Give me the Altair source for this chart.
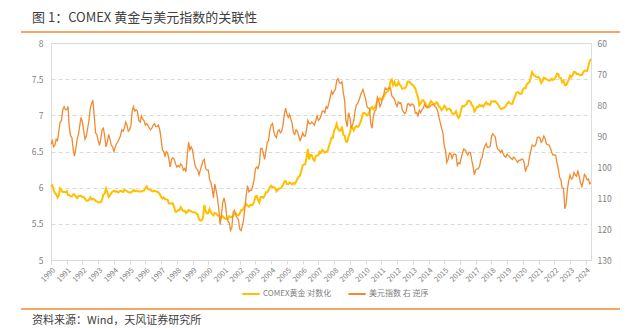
import altair as alt
import pandas as pd

# COMEX gold (USD/oz), monthly readings 1990-01 .. 2024-05
gold = {
    1990: [410, 417, 393, 374, 369, 352, 362, 400, 389, 380, 381, 378],
    1991: [384, 364, 363, 358, 357, 367, 368, 356, 349, 359, 360, 361],
    1992: [354, 354, 345, 338, 337, 341, 353, 343, 345, 344, 335, 334],
    1993: [329, 330, 330, 342, 367, 372, 398, 379, 355, 364, 374, 383],
    1994: [387, 382, 384, 377, 381, 386, 385, 380, 391, 389, 384, 379],
    1995: [379, 377, 382, 391, 385, 387, 386, 383, 383, 383, 386, 387],
    1996: [400, 410, 396, 393, 392, 385, 383, 387, 383, 381, 378, 369],
    1997: [355, 347, 352, 344, 344, 341, 324, 324, 323, 325, 306, 289],
    1998: [289, 297, 296, 308, 299, 292, 293, 284, 289, 296, 294, 291],
    1999: [287, 287, 286, 282, 277, 261, 256, 257, 265, 318, 293, 283],
    2000: [284, 300, 286, 280, 275, 285, 282, 275, 273, 270, 266, 272],
    2001: [266, 262, 263, 261, 272, 270, 268, 273, 283, 283, 276, 275],
    2002: [282, 296, 294, 303, 314, 322, 314, 310, 319, 317, 319, 333],
    2003: [357, 359, 340, 328, 355, 356, 351, 360, 379, 379, 390, 407],
    2004: [414, 405, 406, 403, 384, 392, 398, 400, 406, 420, 439, 442],
    2005: [424, 423, 434, 429, 422, 430, 424, 437, 456, 470, 476, 510],
    2006: [549, 555, 557, 610, 690, 596, 633, 632, 598, 585, 627, 629],
    2007: [631, 664, 655, 679, 667, 655, 665, 665, 712, 754, 806, 803],
    2008: [889, 922, 975, 909, 888, 889, 939, 839, 829, 760, 760, 816],
    2009: [858, 943, 924, 890, 928, 946, 934, 949, 996, 1043, 1127, 1134],
    2010: [1118, 1095, 1113, 1148, 1205, 1232, 1193, 1215, 1271, 1343, 1370, 1391],
    2011: [1356, 1372, 1424, 1473, 1510, 1529, 1572, 1756, 1800, 1665, 1739, 1652],
    2012: [1656, 1742, 1673, 1650, 1585, 1596, 1594, 1630, 1744, 1747, 1721, 1684],
    2013: [1671, 1627, 1593, 1487, 1414, 1260, 1286, 1347, 1349, 1316, 1275, 1221],
    2014: [1244, 1300, 1336, 1299, 1287, 1279, 1311, 1296, 1239, 1222, 1176, 1200],
    2015: [1251, 1227, 1178, 1198, 1199, 1181, 1128, 1117, 1125, 1159, 1086, 1060],
    2016: [1097, 1200, 1246, 1242, 1260, 1276, 1337, 1341, 1326, 1266, 1238, 1157],
    2017: [1192, 1234, 1231, 1266, 1246, 1260, 1237, 1283, 1315, 1280, 1283, 1265],
    2018: [1331, 1331, 1325, 1335, 1303, 1282, 1238, 1202, 1198, 1215, 1221, 1250],
    2019: [1291, 1320, 1300, 1286, 1284, 1359, 1413, 1500, 1511, 1495, 1471, 1480],
    2020: [1560, 1597, 1591, 1683, 1715, 1732, 1847, 1990, 1921, 1900, 1866, 1858],
    2021: [1867, 1808, 1718, 1760, 1850, 1834, 1807, 1785, 1775, 1777, 1821, 1790],
    2022: [1817, 1856, 1948, 1937, 1849, 1837, 1732, 1764, 1665, 1664, 1726, 1798],
    2023: [1898, 1855, 1912, 2000, 1992, 1943, 1951, 1918, 1916, 1916, 1985, 2030],
    2024: [2034, 2024, 2160, 2330, 2390],
}

# US dollar index, monthly readings 1990-01 .. 2024-05
dxy = {
    1990: [92.7, 91.5, 93.5, 93.0, 91.0, 91.5, 88.5, 85.5, 85.0, 81.5, 80.5, 81.5],
    1991: [81.5, 80.5, 87.0, 90.0, 90.5, 94.5, 96.5, 94.0, 91.0, 89.5, 86.5, 84.0],
    1992: [85.5, 88.5, 91.0, 90.0, 87.5, 85.0, 81.0, 79.5, 78.5, 83.5, 89.0, 89.5],
    1993: [91.5, 93.0, 91.0, 88.0, 87.5, 90.0, 93.5, 92.0, 89.5, 91.0, 93.0, 93.5],
    1994: [95.0, 93.5, 92.5, 92.0, 91.0, 90.0, 88.0, 88.5, 87.5, 85.5, 86.5, 88.5],
    1995: [88.0, 86.5, 82.0, 80.5, 82.0, 81.5, 82.0, 85.0, 85.5, 83.5, 84.5, 85.0],
    1996: [86.5, 86.0, 86.5, 87.5, 88.0, 87.5, 86.5, 86.0, 87.0, 87.0, 86.5, 88.0],
    1997: [91.0, 94.5, 95.0, 96.5, 95.0, 95.5, 97.5, 100.0, 97.5, 97.0, 97.5, 99.0],
    1998: [100.0, 99.5, 100.0, 99.0, 99.5, 101.0, 100.5, 101.5, 96.0, 92.0, 94.5, 93.5],
    1999: [94.5, 97.5, 99.5, 100.5, 101.0, 102.5, 101.0, 99.5, 98.0, 97.5, 100.5, 101.0],
    2000: [101.0, 104.0, 105.0, 107.0, 110.0, 105.5, 107.5, 110.0, 113.5, 118.5, 115.5, 111.5],
    2001: [110.0, 112.0, 115.5, 117.5, 118.0, 120.5, 119.5, 114.5, 114.0, 115.5, 116.5, 117.0],
    2002: [120.0, 120.5, 119.0, 117.0, 113.0, 109.0, 106.0, 108.0, 107.5, 107.5, 106.0, 104.0],
    2003: [100.5, 100.0, 100.5, 99.0, 94.0, 94.0, 95.5, 97.5, 95.0, 92.0, 91.5, 88.0],
    2004: [86.5, 86.0, 88.5, 90.0, 90.5, 88.5, 88.0, 89.0, 88.5, 86.5, 83.0, 81.0],
    2005: [83.0, 84.0, 83.0, 84.5, 86.0, 89.0, 89.5, 88.0, 88.5, 90.0, 91.5, 90.5],
    2006: [89.0, 90.0, 90.0, 88.0, 85.0, 86.0, 86.0, 85.5, 86.0, 86.5, 85.0, 83.5],
    2007: [85.0, 84.5, 83.5, 82.0, 82.0, 82.5, 80.5, 81.0, 79.5, 77.5, 75.5, 76.5],
    2008: [75.5, 75.0, 72.0, 71.5, 72.8, 73.0, 72.5, 76.0, 78.5, 85.0, 87.0, 82.5],
    2009: [84.0, 87.5, 86.5, 85.0, 82.0, 80.0, 79.5, 78.5, 77.0, 76.0, 75.0, 76.5],
    2010: [78.0, 80.5, 81.0, 81.0, 86.0, 87.5, 83.5, 82.0, 81.5, 77.5, 78.5, 80.5],
    2011: [79.5, 77.5, 76.5, 74.5, 75.0, 74.8, 74.5, 74.5, 77.0, 77.5, 78.0, 79.5],
    2012: [80.5, 79.0, 79.5, 79.3, 81.5, 82.3, 82.8, 82.0, 79.7, 79.6, 80.3, 79.7],
    2013: [79.8, 80.5, 82.6, 82.4, 83.5, 81.7, 82.5, 81.5, 81.0, 79.8, 80.6, 80.5],
    2014: [80.8, 80.6, 80.0, 79.9, 79.9, 80.6, 80.8, 82.0, 84.0, 85.7, 87.5, 89.0],
    2015: [93.0, 94.8, 98.5, 97.5, 95.5, 95.7, 97.2, 96.0, 95.8, 96.0, 99.5, 98.6],
    2016: [98.9, 97.0, 95.5, 94.2, 94.5, 95.4, 96.1, 95.2, 95.4, 97.8, 99.8, 102.5],
    2017: [101.0, 100.6, 100.6, 99.8, 97.6, 96.9, 94.5, 93.3, 92.4, 93.7, 93.6, 93.4],
    2018: [90.3, 89.3, 89.8, 90.3, 93.1, 94.4, 94.6, 95.3, 94.6, 95.7, 96.6, 96.8],
    2019: [95.9, 96.4, 96.7, 97.2, 97.6, 96.8, 97.2, 97.9, 98.5, 97.8, 97.9, 97.4],
    2020: [97.5, 98.7, 101.5, 100.0, 99.6, 96.9, 95.0, 92.9, 93.2, 93.3, 92.5, 90.5],
    2021: [90.3, 90.6, 92.0, 91.4, 90.0, 90.9, 92.5, 92.8, 92.9, 93.9, 95.3, 96.2],
    2022: [96.0, 96.2, 98.4, 100.4, 103.3, 104.0, 106.8, 106.8, 113.5, 111.9, 107.1, 104.4],
    2023: [102.6, 103.9, 103.6, 101.8, 102.6, 103.0, 101.1, 103.2, 105.1, 106.3, 104.6, 102.4],
    2024: [103.0, 104.2, 103.9, 105.4, 105.0],
}

GOLD_LABEL = "COMEX黄金 对数化"
DXY_LABEL = "美元指数 右 逆序"
TITLE = "图 1：COMEX 黄金与美元指数的关联性"
SOURCE = "资料来源：Wind，天风证券研究所"
left_ticks = [5, 5.5, 6, 6.5, 7, 7.5, 8]
right_ticks = [60, 70, 80, 90, 100, 110, 120, 130]

GOLD_C = "#FFC000"
DXY_C = "#F28A30"
LINE_C = "#F08A2C"
FONT = "Noto Sans CJK SC"


def to_frame(d, label):
    rows = []
    for yr, vals in d.items():
        for m, v in enumerate(vals):
            rows.append({"date": pd.Timestamp(year=yr, month=m + 1, day=1), "v": v, "series": label})
    return pd.DataFrame(rows)


gdf = to_frame(gold, GOLD_LABEL)
ddf = to_frame(dxy, DXY_LABEL)

xscale = alt.Scale(domain=[alt.DateTime(year=1990, month=1, date=1),
                           alt.DateTime(year=2024, month=5, date=1)], nice=False)
xaxis = alt.Axis(format="%Y", tickCount={"interval": "year", "step": 1}, labelAngle=315,
                 labelFontSize=7.5, labelColor="#7f7f7f", tickColor="#d9d9d9", domainColor="#d9d9d9",
                 tickSize=4, grid=False, title=None, labelFont=FONT, labelPadding=2,
                 labelOverlap=False, labelBound=False, labelFlush=False)
color = alt.Color("series:N",
                  scale=alt.Scale(domain=[GOLD_LABEL, DXY_LABEL], range=[GOLD_C, DXY_C]),
                  legend=alt.Legend(orient="none", legendX=190, legendY=241, direction="horizontal",
                                    title=None, symbolType="stroke", symbolStrokeWidth=2,
                                    symbolSize=300, labelFontSize=8, labelColor="#7f7f7f",
                                    columnPadding=12, labelOffset=2, labelFont=FONT))

g = alt.Chart(gdf).transform_calculate(lg="log(datum.v)").mark_line(strokeWidth=2).encode(
    x=alt.X("date:T", scale=xscale, axis=xaxis),
    y=alt.Y("lg:Q", scale=alt.Scale(domain=[5, 8], nice=False, zero=False),
            axis=alt.Axis(orient="left", values=left_ticks, format="~g", grid=True,
                          gridDash=[4, 3], gridColor="#d9d9d9", domain=False, ticks=False,
                          labelPadding=8, labelFontSize=8.5, labelColor="#7f7f7f",
                          title=None, labelFont=FONT)),
    color=color,
)

d = alt.Chart(ddf).mark_line(strokeWidth=1.3).encode(
    x=alt.X("date:T", scale=xscale, axis=xaxis),
    y=alt.Y("v:Q", scale=alt.Scale(domain=[60, 130], nice=False, zero=False, reverse=True),
            axis=alt.Axis(orient="right", values=right_ticks, grid=False, domain=False,
                          ticks=False, labelPadding=6, labelFontSize=8.5, labelColor="#7f7f7f",
                          title=None, labelFont=FONT)),
    color=color,
)

one = pd.DataFrame({"t": [TITLE], "s": [SOURCE]})
title = alt.Chart(one).mark_text(align="left", baseline="middle", fontSize=13, color="#404040",
                                 font=FONT).encode(text="t:N", x=alt.value(-19), y=alt.value(-25))
source = alt.Chart(one).mark_text(align="left", baseline="middle", fontSize=11, color="#404040",
                                  font=FONT).encode(text="s:N", x=alt.value(-19), y=alt.value(278))
top_rule = alt.Chart(one).mark_rule(color=LINE_C, strokeWidth=1.5).encode(
    x=alt.value(-30), x2=alt.value(569), y=alt.value(-11))
bot_rule = alt.Chart(one).mark_rule(color=LINE_C, strokeWidth=1.5).encode(
    x=alt.value(-30), x2=alt.value(569), y=alt.value(266))

chart = alt.layer(g, d, title, source, top_rule, bot_rule).resolve_scale(y="independent").properties(
    width=540, height=217, autosize="none",
    padding={"left": 51, "top": 43, "right": 37, "bottom": 68},
).configure_view(stroke=None).configure(font=FONT, background="white")

chart.save("out.html", embed_options={"renderer": "svg", "actions": False})
